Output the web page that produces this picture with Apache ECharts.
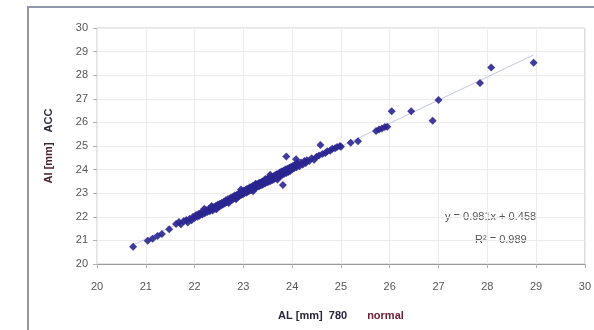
<!DOCTYPE html>
<html>
<head>
<meta charset="utf-8">
<script src="https://cdn.jsdelivr.net/npm/echarts@6/dist/echarts.min.js"></script>
<style>
  html, body { margin: 0; padding: 0; background: #fff; }
  #chart { width: 594px; height: 330px; }
</style>
</head>
<body>
<div id="chart"></div>
<script>
// AL (x) and AI (y) values, in mm
const alValues = [
  20.74, 21.04, 21.14, 21.24, 21.33, 21.48,
  21.62, 21.68, 21.72, 21.78, 21.83, 21.86, 21.90, 21.94, 21.97, 22.00, 22.03, 22.06,
  22.08, 22.10, 22.13, 22.16, 22.19, 22.21, 22.24, 22.26, 22.29, 22.31, 22.33, 22.35,
  22.37, 22.40, 22.42, 22.44, 22.46, 22.48, 22.50, 22.52, 22.54, 22.56,
  22.58, 22.60, 22.62, 22.64, 22.66, 22.68, 22.70, 22.72, 22.73, 22.75, 22.77, 22.79,
  22.80, 22.82, 22.84, 22.86, 22.87, 22.89, 22.90, 22.92, 22.93, 22.95, 22.96, 22.98,
  22.99, 23.00, 23.01, 23.03,
  23.04, 23.06, 23.07, 23.09, 23.10, 23.12, 23.13, 23.15, 23.16, 23.18, 23.19, 23.21,
  23.22, 23.24, 23.25, 23.27, 23.28, 23.30, 23.31, 23.33, 23.34, 23.36, 23.37, 23.39,
  23.40, 23.42, 23.43, 23.45, 23.47, 23.49,
  23.51, 23.52, 23.54, 23.56, 23.58, 23.60, 23.62, 23.63, 23.65, 23.67, 23.68, 23.70,
  23.72, 23.73, 23.75, 23.77, 23.78, 23.80, 23.81, 23.82, 23.84, 23.86, 23.88, 23.88,
  23.90, 23.92, 23.94, 23.96, 23.98,
  24.00, 24.02, 24.04, 24.06, 24.08, 24.09, 24.12, 24.15, 24.18, 24.22, 24.25, 24.28,
  24.30, 24.35, 24.40, 24.45,
  24.50, 24.55, 24.58, 24.62, 24.68, 24.72, 24.78, 24.82, 24.88, 24.92, 24.98, 25.00,
  25.20, 25.35,
  25.72, 25.78, 25.84, 25.90, 25.95, 26.04, 26.44, 26.88, 27.00, 27.85, 28.08, 28.95,
  22.20, 22.45, 22.70, 22.95, 23.20, 23.45, 23.70, 23.55, 23.25, 22.85, 22.35, 24.10
];
const aiValues = [
  20.73, 20.99, 21.07, 21.19, 21.27, 21.47,
  21.70, 21.78, 21.68, 21.82, 21.86, 21.76, 21.92, 21.85, 22.00, 21.95, 22.08, 22.00,
  22.12, 22.04, 22.18, 22.10, 22.22, 22.15, 22.28, 22.20, 22.33, 22.24, 22.30, 22.38,
  22.27, 22.42, 22.34, 22.47, 22.40, 22.52, 22.44, 22.55, 22.47, 22.60,
  22.52, 22.64, 22.56, 22.70, 22.62, 22.74, 22.66, 22.78, 22.70, 22.82, 22.72, 22.85,
  22.76, 22.90, 22.80, 22.92, 22.84, 22.96, 22.86, 22.99, 22.90, 23.04, 22.93, 23.06,
  22.96, 23.10, 22.99, 23.08,
  23.14, 23.02, 23.18, 23.06, 23.20, 23.10, 23.24, 23.12, 23.26, 23.16, 23.30, 23.18,
  23.32, 23.22, 23.36, 23.25, 23.38, 23.28, 23.42, 23.30, 23.44, 23.34, 23.47, 23.36,
  23.50, 23.40, 23.54, 23.42, 23.58, 23.46,
  23.62, 23.48, 23.65, 23.52, 23.70, 23.56, 23.72, 23.60, 23.76, 23.64, 23.80, 23.68,
  23.84, 23.72, 23.88, 23.74, 23.92, 23.78, 23.35, 23.95, 23.82, 24.00, 24.55, 23.86,
  24.04, 23.90, 24.08, 23.94, 24.12,
  24.02, 24.16, 24.06, 24.20, 24.44, 24.10, 24.24, 24.14, 24.30, 24.22, 24.36, 24.28,
  24.40, 24.36, 24.48, 24.42,
  24.54, 24.60, 25.04, 24.66, 24.70, 24.78, 24.80, 24.88, 24.90, 24.96, 25.00, 24.97,
  25.14, 25.20,
  25.64, 25.70, 25.74, 25.80, 25.82, 26.47, 26.47, 26.07, 26.95, 27.67, 28.33, 28.53,
  22.34, 22.32, 22.58, 23.16, 23.08, 23.60, 23.58, 23.78, 23.40, 22.74, 22.46, 24.28
];
const xTicks = [20, 21, 22, 23, 24, 25, 26, 27, 28, 29, 30];
const yTicks = [20, 21, 22, 23, 24, 25, 26, 27, 28, 29, 30];
// trendline as printed on the chart
const trendSlope = 0.981;
const trendIntercept = 0.458;
const trendRange = [20.74, 28.95];

const points = alValues.map((x, i) => [x, aiValues[i]]);
const trend = trendRange.map(x => [x, trendSlope * x + trendIntercept]);

const chart = echarts.init(document.getElementById('chart'), null, { renderer: 'canvas' });

const axisLabelStyle = { color: '#555', fontFamily: 'Liberation Sans', fontSize: 11 };

chart.setOption({
  animation: false,
  grid: { left: 97, top: 28, right: 4, bottom: 66, show: true, borderColor: '#c8c8c8', borderWidth: 1 },
  xAxis: {
    type: 'value', min: xTicks[0], max: xTicks[xTicks.length - 1], interval: 1,
    name: '{a|AL [mm]  780}      {b|normal}',
    nameLocation: 'middle', nameGap: 46,
    nameTextStyle: {
      rich: {
        a: { color: '#2a2440', fontWeight: 'bold', fontFamily: 'Liberation Sans', fontSize: 11 },
        b: { color: '#6a2035', fontWeight: 'bold', fontFamily: 'Liberation Sans', fontSize: 11 }
      }
    },
    axisLine: { show: true, lineStyle: { color: '#9a9a9a' } },
    axisTick: { show: true, length: 4, lineStyle: { color: '#b0b0b0' } },
    axisLabel: Object.assign({ margin: 17 }, axisLabelStyle),
    splitLine: { show: true, lineStyle: { color: '#ececec' } }
  },
  yAxis: {
    type: 'value', min: yTicks[0], max: yTicks[yTicks.length - 1], interval: 1,
    name: '{a|AI [mm]}   {b|ACC}',
    nameLocation: 'middle', nameGap: 42, nameRotate: 90,
    nameTextStyle: {
      rich: {
        a: { color: '#4a1f30', fontWeight: 'bold', fontFamily: 'Liberation Sans', fontSize: 11 },
        b: { color: '#2a2440', fontWeight: 'bold', fontFamily: 'Liberation Sans', fontSize: 11 }
      }
    },
    axisLine: { show: false },
    axisTick: { show: true, length: 4, lineStyle: { color: '#b0b0b0' } },
    axisLabel: Object.assign({ margin: 9 }, axisLabelStyle),
    splitLine: { show: true, lineStyle: { color: '#ececec' } }
  },
  graphic: [
    {
      type: 'rect', silent: true,
      shape: { x: 28, y: 7, width: 700, height: 500 },
      style: { fill: 'none', stroke: '#8e98ac', lineWidth: 2 }
    },
    {
      type: 'text', left: 445, top: 211, silent: true,
      style: {
        text: 'y = 0.981x + 0.458',
        fill: '#555', font: '11px "Liberation Sans"'
      }
    },
    {
      type: 'text', left: 475, top: 234, silent: true,
      style: {
        text: 'R² = 0.989',
        fill: '#555', font: '11px "Liberation Sans"'
      }
    }
  ],
  series: [
    {
      type: 'line', data: trend, symbol: 'none', silent: true,
      lineStyle: { color: '#c4c4ec', width: 1 }, z: 1
    },
    {
      type: 'scatter', data: points, symbol: 'diamond', symbolSize: 8,
      itemStyle: { color: '#2a2690', opacity: 0.9 }, z: 2
    }
  ]
});
</script>
</body>
</html>
